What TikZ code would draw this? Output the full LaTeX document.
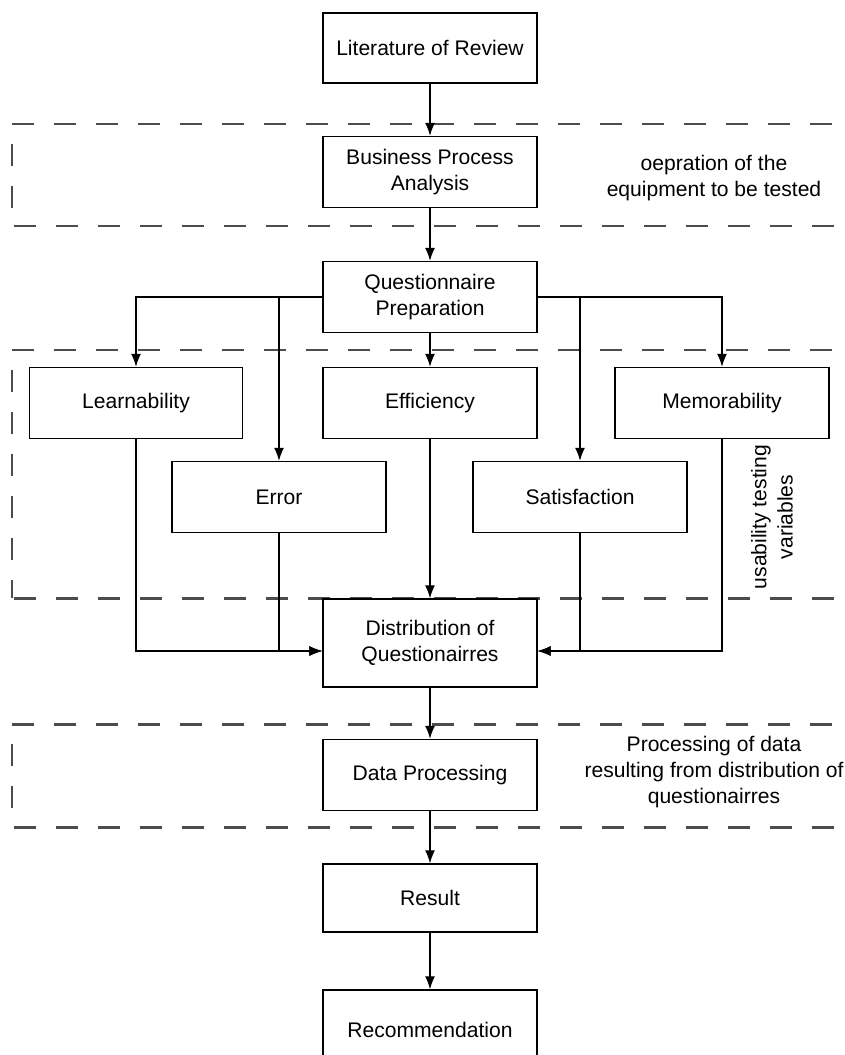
\documentclass[tikz,border=0pt]{standalone}
\usepackage{fontspec}
\setmainfont{Liberation Sans}
\usetikzlibrary{arrows.meta,positioning}

\begin{document}
\begin{tikzpicture}[
  x=0.02cm,y=-0.02cm,>={Latex[length=2.6mm,width=2mm]},
  flow/.style={->,line width=0.7pt},
  stage/.style={draw,line width=0.8pt,minimum width=4.28cm,
    minimum height=1.42cm,align=center,inner sep=2pt},
  zone/.style={draw=black!70,line width=1.7pt,dash pattern=on 0.44cm off 0.4cm},
  zoneside/.style={zone,dash phase=0.44cm},
  note/.style={align=center},
  every node/.style={font=\fontsize{12}{15}\selectfont}
]
  \useasboundingbox (0,0) rectangle (845,1055);
  % dashed regions
  \draw[zone] (12,124) -- (880,124);
  \draw[zone] (14,226) -- (880,226);
  \draw[zoneside] (12,124) -- (12,226);
  \draw[zone] (12,350) -- (880,350);
  \draw[zone] (14,598) -- (880,598);
  \draw[zoneside] (12,350) -- (12,598);
  \draw[zone] (12,724) -- (880,724);
  \draw[zone] (14,827) -- (880,827);
  \draw[zoneside] (12,724) -- (12,827);
  \node[note] (opnote) at (714,178) {oepration of the\\equipment to be tested};
  \node[note,rotate=90] (varnote) at (772,517) {usability testing\\variables};
  \node[note] (procnote) at (714,772) {Processing of data\\resulting from distribution of\\questionairres};

  \node[stage,minimum height=1.4cm] (review) at (430,48) {Literature of Review};
  \node[stage] (business) at (430,172) {Business Process\\Analysis};
  \node[stage] (prep) at (430,297) {Questionnaire\\Preparation};
  \node[stage,minimum width=4.26cm] (learn) at (136,403) {Learnability};
  \node[stage] (effic) at (430,403) {Efficiency};
  \node[stage] (memo) at (722,403) {Memorability};
  \node[stage] (error) at (279,497) {Error};
  \node[stage] (satis) at (580,497) {Satisfaction};
  \node[stage,minimum height=1.76cm] (distrib) at (430,643) {Distribution of\\Questionairres};
  \node[stage] (dataproc) at (430,775) {Data Processing};
  \node[stage,minimum height=1.36cm] (result) at (430,898) {Result};
  \node[stage,minimum height=1.6cm] (recomm) at (430,1030) {Recommendation};

  \draw[flow] (review) -- (business);
  \draw[flow] (business) -- (prep);
  \draw[flow] (prep) -- (effic);
  \draw[flow] (prep.west) -| (learn.north);
  \draw[flow] (prep.west) -| (error.north);
  \draw[flow] (prep.east) -| (satis.north);
  \draw[flow] (prep.east) -| (memo.north);
  \draw[flow] (learn.south) |- ([yshift=-0.16cm]distrib.west);
  \draw[flow] (error.south) |- ([yshift=-0.16cm]distrib.west);
  \draw[flow] (effic) -- (distrib);
  \draw[flow] (satis.south) |- ([yshift=-0.16cm]distrib.east);
  \draw[flow] (memo.south) |- ([yshift=-0.16cm]distrib.east);
  \draw[flow] (distrib) -- (dataproc);
  \draw[flow] (dataproc) -- (result);
  \draw[flow] (result) -- (recomm);
\end{tikzpicture}
\end{document}
